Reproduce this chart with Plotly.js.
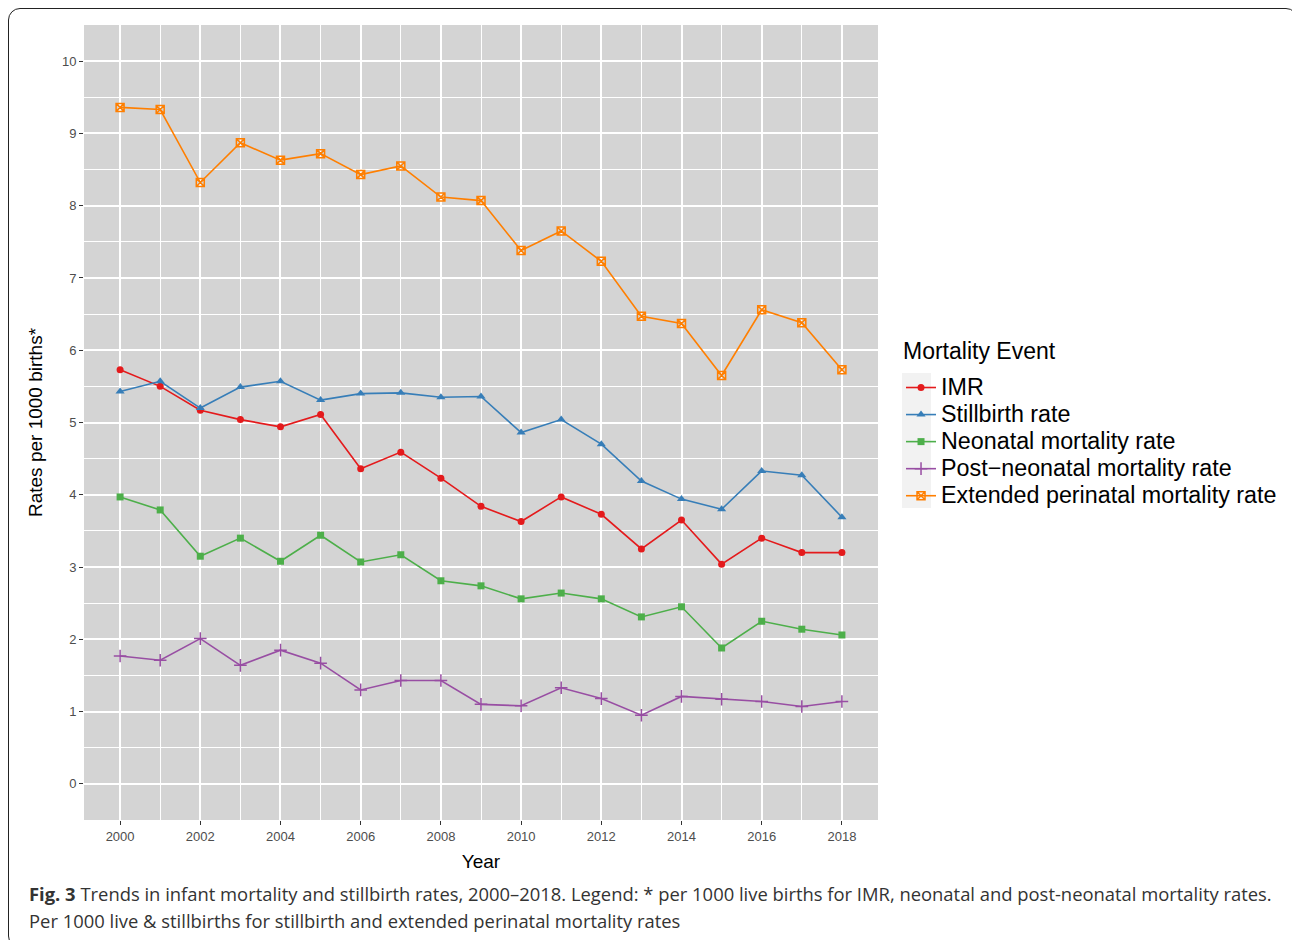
<!DOCTYPE html>
<html><head><meta charset="utf-8">
<script src="https://cdn.plot.ly/plotly-3.0.1.min.js"></script>
<style>
html,body{margin:0;padding:0;background:#fff;}
#frame{position:absolute;left:8px;top:8px;width:1290px;height:940px;border:1.5px solid #222;border-radius:12px;box-sizing:border-box;}
#chart{position:absolute;left:0;top:0;width:1292px;height:940px;}
</style></head>
<body>
<div id="frame"></div>
<div id="chart"></div>
<script>
const years = [2000,2001,2002,2003,2004,2005,2006,2007,2008,2009,2010,2011,2012,2013,2014,2015,2016,2017,2018];
const imr = [5.73,5.50,5.17,5.04,4.94,5.11,4.36,4.59,4.23,3.84,3.63,3.97,3.73,3.25,3.65,3.04,3.40,3.20,3.20];
const stillbirth = [5.43,5.57,5.20,5.49,5.57,5.31,5.40,5.41,5.35,5.36,4.86,5.04,4.70,4.19,3.94,3.80,4.33,4.27,3.69];
const neonatal = [3.97,3.79,3.15,3.40,3.08,3.44,3.07,3.17,2.81,2.74,2.56,2.64,2.56,2.31,2.45,1.88,2.25,2.14,2.06];
const postNeonatal = [1.77,1.71,2.01,1.64,1.85,1.67,1.30,1.43,1.43,1.10,1.08,1.33,1.18,0.95,1.21,1.17,1.14,1.07,1.14];
const extendedPerinatal = [9.36,9.33,8.32,8.87,8.63,8.72,8.43,8.55,8.12,8.07,7.38,7.65,7.23,6.47,6.37,5.65,6.56,6.38,5.73];
const seriesNames = ["IMR","Stillbirth rate","Neonatal mortality rate","Post\u2212neonatal mortality rate","Extended perinatal mortality rate"];
const legendTitle = "Mortality Event";
const xTicks = [2000,2002,2004,2006,2008,2010,2012,2014,2016,2018];
const yTicks = [0,1,2,3,4,5,6,7,8,9,10];

const colors = ["#E41A1C","#377EB8","#4DAF4A","#984EA3","#FF7F00"];
const symbols = ["circle","triangle-up","square","cross-thin-open","square-x-open"];
const sizes = [7,8,7,9,8];
const allData = [imr, stillbirth, neonatal, postNeonatal, extendedPerinatal];

const traces = allData.map((d,i)=>({
  x: years, y: d, name: '<span style="font-size:23.3px">'+seriesNames[i]+'</span>', type:'scatter', mode:'lines+markers',
  line:{color:colors[i], width:1.6},
  marker:{color:colors[i], symbol:symbols[i], size:sizes[i], line:{color:colors[i], width:(i>=3?1.5:0)}}
}));

const F = '"Liberation Sans", Arial, Helvetica, sans-serif';
const layout = {
  width:1292, height:940,
  margin:{l:84, r:414, t:25, b:120, autoexpand:false},
  paper_bgcolor:'rgba(0,0,0,0)',
  plot_bgcolor:'#d4d4d4',
  font:{family:F, color:'#000'},
  showlegend:true,
  xaxis:{
    range:[1999.1,2018.9], tickvals:xTicks, ticktext:xTicks.map(String),
    showgrid:true, gridcolor:'#ffffff', gridwidth:2,
    minor:{dtick:1, tick0:2001, showgrid:true, gridcolor:'#ffffff', gridwidth:1, ticks:''},
    zeroline:false, showline:false, automargin:false,
    ticks:'outside', ticklen:4, tickcolor:'#333', tickwidth:1,
    tickfont:{family:F, size:13, color:'#4d4d4d'},
    title:{text:'Year', font:{family:F, size:19, color:'#000'}, standoff:12}
  },
  yaxis:{
    range:[-0.5,10.5], tickvals:yTicks, ticktext:yTicks.map(String),
    showgrid:true, gridcolor:'#ffffff', gridwidth:2,
    minor:{dtick:0.5, tick0:0, showgrid:true, gridcolor:'#ffffff', gridwidth:1, ticks:''},
    zeroline:false, showline:false, automargin:false,
    ticks:'outside', ticklen:4, tickcolor:'#333', tickwidth:1,
    tickfont:{family:F, size:13, color:'#4d4d4d'},
    title:{text:'Rates per 1000 births*', font:{family:F, size:19, color:'#000'}, standoff:14}
  },
  legend:{
    x:1.029, xanchor:'left', y:0.5673, yanchor:'top',
    font:{family:F, size:18.5, color:'#000'},
    bgcolor:'rgba(0,0,0,0)', tracegroupgap:0, itemwidth:30
  },
  shapes:[
    {type:'rect', xref:'paper', yref:'paper', x0:1.0302, x1:1.0667, y0:0.3925, y1:0.5623,
     fillcolor:'#f2f2f2', line:{width:0}, layer:'below'}
  ],
  annotations:[
    {xref:'paper', yref:'paper', x:1.029, y:0.59, xanchor:'left', yanchor:'middle', showarrow:false, align:'left',
     text:legendTitle, font:{family:F, size:23, color:'#000'}},
    {xref:'paper', yref:'paper', x:-0.0718, y:-0.093, xanchor:'left', yanchor:'middle', showarrow:false, align:'left',
     text:'<b>Fig. 3</b> Trends in infant mortality and stillbirth rates, 2000\u20132018. Legend: * per 1000 live births for IMR, neonatal and post-neonatal mortality rates.',
     font:{family:'"Open Sans", sans-serif', size:18.4, color:'#333'}},
    {xref:'paper', yref:'paper', x:-0.0718, y:-0.126, xanchor:'left', yanchor:'middle', showarrow:false, align:'left',
     text:'Per 1000 live &amp; stillbirths for stillbirth and extended perinatal mortality rates',
     font:{family:'"Open Sans", sans-serif', size:18.4, color:'#333'}}
  ]
};
Plotly.newPlot('chart', traces, layout, {displayModeBar:false, staticPlot:true});
</script>
</body></html>
